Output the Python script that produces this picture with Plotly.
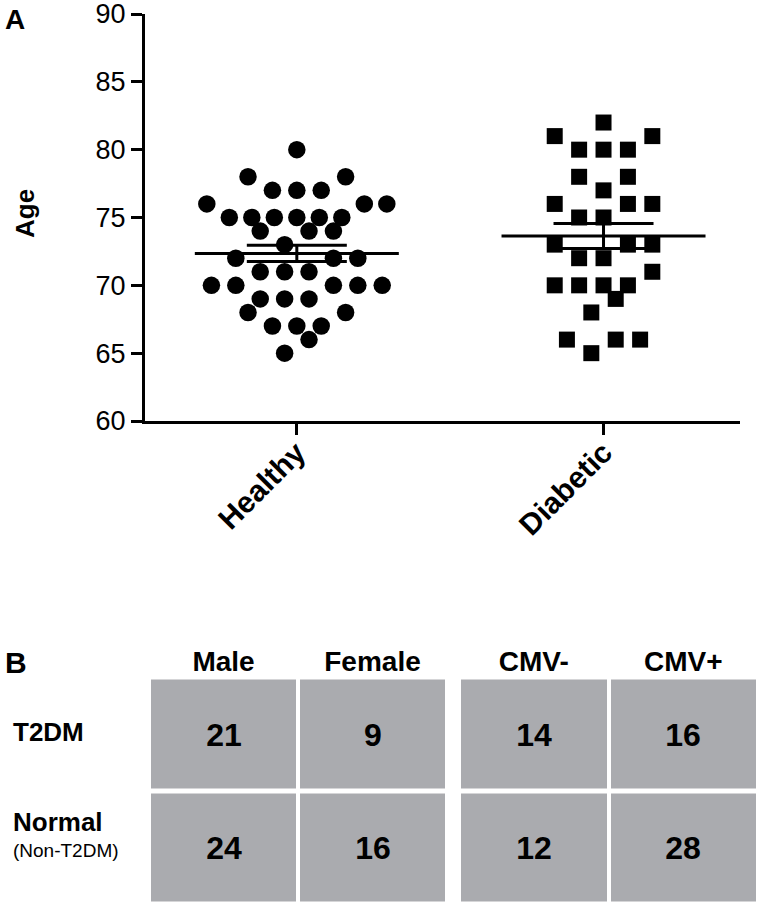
import math
import plotly.graph_objects as go

# ---------------- data ----------------
categories = ["Healthy", "Diabetic"]
healthy_ages = [80, 78, 78, 77, 77, 77, 76, 76, 76, 75, 75, 75, 75, 75, 75,
                74, 74, 74, 73, 72, 72, 72, 71, 71, 71, 70, 70, 70, 70, 70,
                69, 69, 69, 68, 68, 67, 67, 67, 66, 65]
diabetic_ages = [82, 81, 81, 80, 80, 80, 78, 78, 77, 76, 76, 76, 75, 75,
                 73, 73, 73, 72, 72, 71, 70, 70, 70, 70, 69, 68, 66, 66, 66, 65]
y_ticks = [60, 65, 70, 75, 80, 85, 90]

table_rows = ["T2DM", "Normal"]
sex_cols = ["Male", "Female"]
sex_counts = [[21, 9], [24, 16]]
cmv_cols = ["CMV-", "CMV+"]
cmv_counts = [[14, 16], [12, 28]]

# ---------------- layout constants ----------------
W, H = 760, 909
FONT = "Liberation Sans, Arial, sans-serif"
ax_left, ax_right = 145, 740
ax_top, ax_bottom = 14, 421
x_range = [-0.495, 1.445]
y_range = [60, 90]
px_per_x = (ax_right - ax_left) / (x_range[1] - x_range[0])


def scatter_offsets(values, step_px=24.4, max_width_px=180.0, bin_height=1.5):
    """GraphPad-like scatter dot layout: greedy bins from the bottom,
    points of a bin spread evenly in a row, centre-out from low to high."""
    idx = sorted(range(len(values)), key=lambda i: values[i])
    res = [0.0] * len(values)
    pos = 0
    while pos < len(idx):
        start = values[idx[pos]]
        members = []
        while pos < len(idx) and values[idx[pos]] < start + bin_height:
            members.append(idx[pos])
            pos += 1
        n = len(members)
        step = step_px if n < 2 else min(step_px, max_width_px / (n - 1))
        c = (n - 1) // 2
        slots = [c]
        d = 1
        while len(slots) < n:
            for s in (c - d, c + d):
                if 0 <= s < n and len(slots) < n:
                    slots.append(s)
            d += 1
        for m, s in zip(members, slots):
            res[m] = (s - (n - 1) / 2) * step / px_per_x
    return res


def mean_sem(v):
    n = len(v)
    m = sum(v) / n
    sd = math.sqrt(sum((a - m) ** 2 for a in v) / (n - 1))
    return m, sd / math.sqrt(n)


fig = go.Figure()

groups = [(healthy_ages, "circle", 17.5), (diabetic_ages, "square", 16)]
for ci, (vals, sym, sz) in enumerate(groups):
    offs = scatter_offsets(vals)
    fig.add_trace(go.Scatter(
        x=[ci + o for o in offs], y=vals, mode="markers",
        marker=dict(symbol=sym, size=sz, color="black", line=dict(width=0)),
        showlegend=False, xaxis="x", yaxis="y"))

for ci, vals in enumerate([healthy_ages, diabetic_ages]):
    m, sem = mean_sem(vals)
    half = 102 / px_per_x
    fig.add_trace(go.Scatter(
        x=[ci - half, ci + half], y=[m, m], mode="lines",
        line=dict(color="black", width=3), showlegend=False,
        xaxis="x", yaxis="y"))
    fig.add_trace(go.Scatter(
        x=[ci], y=[m], mode="markers", marker=dict(size=1, color="black"),
        error_y=dict(type="data", array=[sem], width=50, thickness=3, color="black"),
        showlegend=False, xaxis="x", yaxis="y"))

# ---------------- panel B ----------------
gray_scale = [[0, "rgb(170,171,175)"], [1, "rgb(170,171,175)"]]
for z, cols, xa in [(sex_counts, sex_cols, "x2"), (cmv_counts, cmv_cols, "x3")]:
    fig.add_trace(go.Heatmap(
        z=z, x=cols, y=table_rows, colorscale=gray_scale, showscale=False,
        xgap=4, ygap=5, texttemplate="%{z}",
        textfont=dict(family=FONT, size=32, color="black", weight="bold"),
        hoverinfo="skip", xaxis=xa, yaxis="y2"))

noaxis = dict(showline=False, ticks="", showgrid=False, zeroline=False, automargin=False)
fig.update_layout(
    width=W, height=H, autosize=False,
    margin=dict(l=0, r=0, t=0, b=0, autoexpand=False),
    paper_bgcolor="white", plot_bgcolor="white",
    font=dict(family=FONT, color="black"),
    xaxis=dict(
        domain=[ax_left / W, ax_right / W], range=x_range,
        tickvals=[0, 1], ticktext=categories, tickangle=-45,
        tickfont=dict(size=30, weight="bold", family=FONT),
        showline=True, linewidth=3, linecolor="black",
        ticks="outside", ticklen=11, tickwidth=3, tickcolor="black",
        showgrid=False, zeroline=False, anchor="y", automargin=False,
        ticklabeloverflow="allow", ticklabelstandoff=-12),
    yaxis=dict(
        domain=[1 - ax_bottom / H, 1 - ax_top / H], range=y_range,
        tickvals=y_ticks, tickfont=dict(size=27, family=FONT),
        showline=True, linewidth=3, linecolor="black",
        ticks="outside", ticklen=11, tickwidth=3, tickcolor="black",
        showgrid=False, zeroline=False, anchor="x", automargin=False,
        ticklabeloverflow="allow"),
    xaxis2=dict(domain=[149 / W, 447 / W], side="top", anchor="y2",
                tickfont=dict(size=28, weight="bold", family=FONT),
                ticklabeloverflow="allow", **noaxis),
    xaxis3=dict(domain=[459 / W, 758 / W], side="top", anchor="y2",
                tickfont=dict(size=28, weight="bold", family=FONT),
                ticklabeloverflow="allow", **noaxis),
    yaxis2=dict(domain=[1 - 904.5 / H, 1 - 677.5 / H], anchor="x2",
                autorange="reversed", showticklabels=False, **noaxis),
)

annos = [
    dict(text="<b>A</b>", x=3 / W, y=1 - 2 / H, xanchor="left", yanchor="top",
         font=dict(size=28)),
    dict(text="<b>B</b>", x=3 / W, y=1 - 644 / H, xanchor="left", yanchor="top",
         font=dict(size=30)),
    dict(text="<b>Age</b>", x=25 / W, y=1 - 214 / H, xanchor="center", yanchor="middle",
         textangle=-90, font=dict(size=26)),
]
for a in annos:
    a.update(xref="paper", yref="paper", showarrow=False)
    fig.add_annotation(**a)

row_labels = [
    ("<b>T2DM</b>", "T2DM", 2, 26),
    ("<b>Normal</b>", "Normal", 26, 26),
    ("(Non-T2DM)", "Normal", -3, 19),
]
for txt, row, ys, fs in row_labels:
    fig.add_annotation(text=txt, xref="paper", yref="y2", x=11 / W, y=row,
                       xanchor="left", yanchor="middle", yshift=ys,
                       showarrow=False, font=dict(size=fs))

fig.write_html(
    "out.html",
    config={"displayModeBar": False},
    post_script="document.body.style.margin='0px';document.body.style.overflow='hidden';",
)
